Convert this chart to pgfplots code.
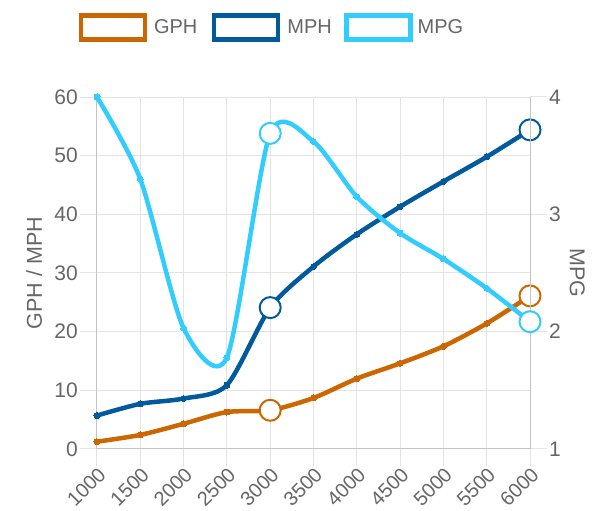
\documentclass[border=0pt]{standalone}
\usepackage{pgfplots}
\pgfplotsset{compat=1.18}
\usepackage{fontspec}
\setmainfont{Liberation Sans}

\definecolor{gph}{HTML}{CC6600}
\definecolor{mph}{HTML}{005A9C}
\definecolor{mpg}{HTML}{33CCFF}
\definecolor{txt}{HTML}{666666}
\definecolor{gridc}{HTML}{E3E3E3}
\definecolor{axc}{HTML}{C4C4C4}

\pgfplotsset{
  base/.style={
    scale only axis, width=433pt, height=352pt,
    at={(97pt,62pt)}, anchor=south west,
    xmin=1000, xmax=6000, xtick={1000,1500,...,6000},
    clip=false,
    tick align=outside, major tick length=17pt,
    every tick/.style={gridc, line width=1pt},
    axis line style={axc, line width=1pt},
    tick label style={txt, font=\fontsize{21}{21}\selectfont},
    label style={txt, font=\fontsize{21.5}{21.5}\selectfont},
    /pgf/number format/assume math mode=true,
    /pgf/number format/1000 sep={},
  },
  box/.style={legend image code/.code={%
    \draw[line width=4.5pt, draw=#1, fill=white] (0pt,-12pt) rectangle (64pt,12pt);
    \path (-2.5pt,0pt) (69pt,0pt);}},
  ln/.style={#1, line width=4.5pt, smooth, tension=0.45, mark=*, mark size=3pt,
    mark options={fill=#1, draw=#1, line width=0pt}},
  hl/.style={only marks, mark=*, mark size=10.5pt,
    mark options={draw=#1, fill=white, line width=2pt}, forget plot},
}

\begin{document}
\begin{tikzpicture}
\useasboundingbox (0,0) rectangle (603pt,511pt);

\begin{axis}[base,
  axis y line*=left, axis x line*=bottom,
  ymin=0, ymax=60, ytick={0,10,...,60},
  grid=major, grid style={gridc, line width=1pt},
  xticklabel style={rotate=45, anchor=north east, inner sep=0pt,
    font=\fontsize{20}{20}\selectfont},
  yticklabel style={inner sep=2pt},
  ylabel={GPH / MPH},
  ylabel style={at={(axis description cs:-0.145,0.5)}, anchor=center},
  legend columns=3,
  legend style={draw=none, fill=none, text=txt,
    font=\fontsize{20}{20}\selectfont,
    at={(axis description cs:0.401,1.197)}, anchor=center,
    /tikz/every even column/.append style={column sep=10pt}},
]
\addplot[ln=gph, box=gph] coordinates {
  (1000,1.25) (1500,2.4) (2000,4.3) (2500,6.3) (3000,6.6) (3500,8.7)
  (4000,12.0) (4500,14.6) (5000,17.5) (5500,21.4) (6000,26.1)};
\addlegendentry{GPH}
\addplot[ln=mph, box=mph] coordinates {
  (1000,5.7) (1500,7.7) (2000,8.6) (2500,10.9) (3000,24.1) (3500,31.1)
  (4000,36.6) (4500,41.3) (5000,45.6) (5500,49.8) (6000,54.4)};
\addlegendentry{MPH}
\addlegendimage{box=mpg}
\addlegendentry{MPG}
\addplot[hl=gph] coordinates {(3000,6.6) (6000,26.1)};
\addplot[hl=mph] coordinates {(3000,24.1) (6000,54.4)};
\end{axis}

\begin{axis}[base,
  axis y line*=right, axis x line=none,
  ymin=1, ymax=4, ytick={1,2,3,4},
  yticklabel style={inner sep=2pt},
  ylabel={MPG},
  ylabel style={at={(axis description cs:1.109,0.5)}, anchor=center, rotate=180},
]
\addplot[ln=mpg] coordinates {
  (1000,4.0) (1500,3.30) (2000,2.03) (2500,1.78) (3000,3.69) (3500,3.62)
  (4000,3.15) (4500,2.84) (5000,2.62) (5500,2.37) (6000,2.085)};
\addplot[hl=mpg] coordinates {(3000,3.69) (6000,2.085)};
\end{axis}
\end{tikzpicture}
\end{document}
